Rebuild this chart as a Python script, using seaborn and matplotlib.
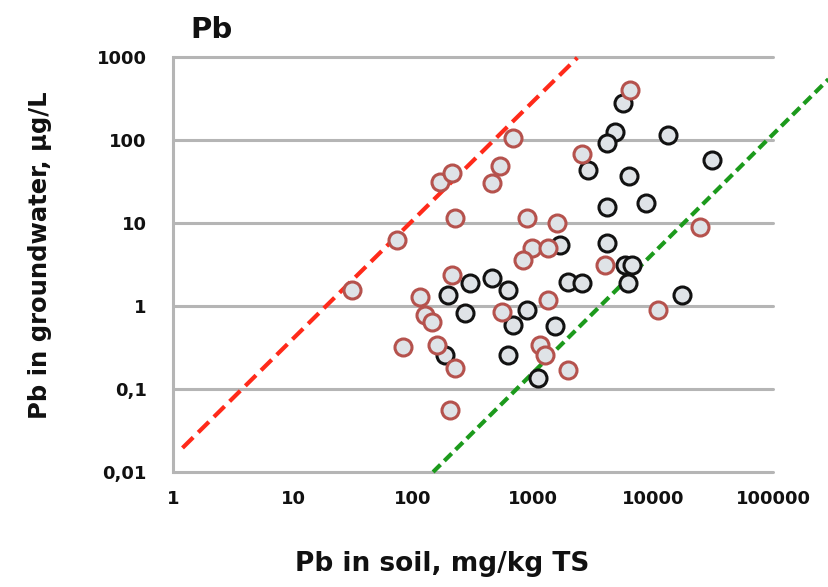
import matplotlib
matplotlib.use("Agg")
import matplotlib.pyplot as plt
import seaborn as sns
import pandas as pd
from matplotlib.ticker import FixedLocator, FixedFormatter, NullLocator

# ---- data ----
black_x = [5620, 4800, 4140, 13300, 31000, 2870, 6300, 4140, 8700, 4140, 1680,
           5860, 6650, 6200, 1960, 2550, 17400, 455, 620, 890, 680, 1520, 620,
           1100, 195, 270, 185, 300]
black_y = [279, 125, 92, 115, 57, 43.6, 36.8, 15.6, 17.4, 5.8, 5.4,
           3.1, 3.1, 1.9, 1.95, 1.9, 1.36, 2.17, 1.56, 0.9, 0.59, 0.58, 0.26,
           0.135, 1.36, 0.82, 0.26, 1.9]

red_x = [31, 74, 168, 211, 224, 455, 531, 680, 6400, 2560, 890, 1585, 985, 1334,
         826, 211, 114, 126, 144, 83, 158, 224, 204, 550, 1334, 1150, 1260, 1950,
         3980, 24700, 11000]
red_y = [1.55, 6.2, 31, 40, 11.5, 30, 48.6, 105, 400, 68, 11.5, 10, 5.0, 5.0,
         3.6, 2.36, 1.28, 0.78, 0.65, 0.32, 0.34, 0.18, 0.056, 0.85, 1.17, 0.34,
         0.26, 0.17, 3.1, 8.9, 0.89]

redline_x = [1.2, 2340]
redline_y = [0.0195, 980]
greenline_x = [147, 290000]
greenline_y = [0.01, 540]

x_ticks = [1, 10, 100, 1000, 10000, 100000]
x_ticklabels = ["1", "10", "100", "1000", "10000", "100000"]
y_ticks = [0.01, 0.1, 1, 10, 100, 1000]
y_ticklabels = ["0,01", "0,1", "1", "10", "100", "1000"]

title = "Pb"
xlabel = "Pb in soil, mg/kg TS"
ylabel = "Pb in groundwater, µg/L"

# ---- style ----
sns.set_style("white")
plt.rcParams["font.family"] = ["DejaVu Sans"]

W, H = 829, 587
fig = plt.figure(figsize=(W / 100, H / 100), dpi=100)
L, R, T, B = 173, 773, 57, 472
ax = fig.add_axes([L / W, 1 - B / H, (R - L) / W, (B - T) / H])

ax.set_xscale("log")
ax.set_yscale("log")
ax.set_xlim(1, 1e5)
ax.set_ylim(0.01, 1000)

grid_col = "#b5b5b5"
face = "#dfe3e7"

ax.plot(redline_x, redline_y, color="#ff2a1a", lw=3.0,
        linestyle=(0, (3.6, 1.7)), clip_on=False, zorder=2,
        dash_capstyle="butt")
ax.plot(greenline_x, greenline_y, color="#1c9a1c", lw=3.0,
        linestyle=(0, (2.5, 1.3)), clip_on=False, zorder=2, dash_capstyle="butt")

sns.scatterplot(x=black_x, y=black_y, ax=ax, s=150, color=face,
                edgecolor="#121212", linewidth=2.2, zorder=3, clip_on=False)
sns.scatterplot(x=red_x, y=red_y, ax=ax, s=150, color=face,
                edgecolor="#b5524d", linewidth=2.2, zorder=4, clip_on=False)

ax.xaxis.set_major_locator(FixedLocator(x_ticks))
ax.xaxis.set_major_formatter(FixedFormatter(x_ticklabels))
ax.xaxis.set_minor_locator(NullLocator())
ax.yaxis.set_major_locator(FixedLocator(y_ticks))
ax.yaxis.set_major_formatter(FixedFormatter(y_ticklabels))
ax.yaxis.set_minor_locator(NullLocator())

for s in ["top", "right", "bottom"]:
    ax.spines[s].set_visible(False)
ax.spines["left"].set_color(grid_col)
ax.spines["left"].set_linewidth(2.2)

ax.yaxis.grid(True, color=grid_col, linewidth=2.2, zorder=0)
ax.xaxis.grid(False)
for gl in ax.get_ygridlines():
    gl.set_clip_on(False)
ax.set_axisbelow(True)

ax.tick_params(axis="y", which="major", direction="out", length=6, width=2.2,
               color=grid_col, pad=13, labelsize=13)
ax.tick_params(axis="x", which="major", direction="out", length=6, width=1.8,
               color=grid_col, pad=7, labelsize=13)
for lab in ax.get_xticklabels() + ax.get_yticklabels():
    lab.set_fontweight("bold")
    lab.set_color("#111111")

ax.set_xlabel(xlabel, fontsize=19, fontweight="bold", color="#111111")
ax.xaxis.set_label_coords((442 - L) / (R - L), -(551 - B) / (B - T))
ax.xaxis.label.set_va("top")

ax.set_ylabel(ylabel, fontsize=17.5, fontweight="bold", color="#111111")
ax.yaxis.label.set_va("center")
ax.yaxis.set_label_coords(-(L - 40) / (R - L), (B - 255) / (B - T))

fig.text(190 / W, 1 - 16 / H, title, fontsize=21, fontweight="bold",
         ha="left", va="top", color="#111111")

fig.savefig("out.png", dpi=100, facecolor="white")
